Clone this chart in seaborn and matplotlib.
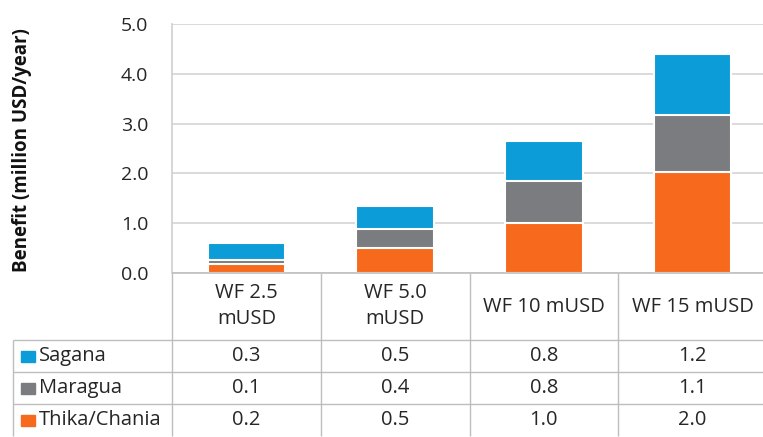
import matplotlib
matplotlib.use("Agg")
import matplotlib.pyplot as plt
import seaborn as sns
import pandas as pd
import numpy as np
from matplotlib.patches import Rectangle

# values (million USD/year)
categories = ['WF 2.5\nmUSD', 'WF 5.0\nmUSD', 'WF 10 mUSD', 'WF 15 mUSD']
thika = [0.18, 0.50, 1.01, 2.03]
maragua = [0.08, 0.38, 0.84, 1.14]
sagana = [0.34, 0.47, 0.80, 1.22]
yticks = [0.0, 1.0, 2.0, 3.0, 4.0, 5.0]

series = ['Sagana', 'Maragua', 'Thika/Chania']
colors = {'Sagana': '#0C9CD8', 'Maragua': '#7B7C7F', 'Thika/Chania': '#F76A1D'}
table_vals = {'Sagana': sagana, 'Maragua': maragua, 'Thika/Chania': thika}

sns.set_style('white')
plt.rcParams['font.family'] = ['Open Sans', 'DejaVu Sans']

df = pd.DataFrame({'cat': categories, 'thika': thika,
                   'maragua': maragua, 'sagana': sagana})
df['lvl1'] = df['thika']
df['lvl2'] = df['thika'] + df['maragua']
df['lvl3'] = df['lvl2'] + df['sagana']

fig = plt.figure(figsize=(7.63, 4.37), dpi=100)
ax = fig.add_axes([172 / 763, 1 - 273 / 437, 595 / 763, 249 / 437])

# stacked bars by overlaying cumulative totals
for col, name in [('lvl3', 'Sagana'), ('lvl2', 'Maragua'), ('lvl1', 'Thika/Chania')]:
    sns.barplot(data=df, x='cat', y=col, color=colors[name], width=0.52,
                edgecolor='white', linewidth=1.5, saturation=1, ax=ax, zorder=3)

txt_c = '#262626'
ax.set_xlim(-0.5, 3.5)
ax.set_ylim(0, 5.0)
ax.set_yticks(yticks)
ax.set_yticklabels([f'{v:.1f}' for v in yticks], fontsize=14, color=txt_c)
ax.tick_params(axis='y', length=0, pad=17)
ax.set_xticks([])
ax.set_xlabel('')
ax.set_ylabel('')
ax.grid(axis='y', color='#D4D4D4', linewidth=1.2, zorder=0)
for s in ['top', 'right', 'bottom']:
    ax.spines[s].set_visible(False)
ax.spines['left'].set_color('#CFCFCF')
ax.spines['left'].set_linewidth(1.2)

fig.text(22 / 763, 1 - 150 / 437, 'Benefit (million USD/year)', rotation=90,
         ha='center', va='center', fontsize=13.5, fontweight='bold', color='#111111')

# data table below the axis
tr = ax.get_xaxis_transform()
line_c = '#BDBDBD'
x_left = -0.5 - 158 / 148
header_bot = -67 / 249
row_h = 32 / 249
bottom = header_bot - 3 * row_h

ax.hlines(0, -0.5, 3.5, transform=tr, color='#BFBFBF', lw=1.2, clip_on=False, zorder=4)
ax.vlines([0.5, 1.5, 2.5], bottom, 0, transform=tr, color=line_c, lw=1.0, clip_on=False)
ax.vlines([-0.5], bottom, 0, transform=tr, color=line_c, lw=1.0, clip_on=False)
ax.vlines([x_left], bottom, header_bot, transform=tr, color=line_c, lw=1.0, clip_on=False)
for i in range(3):
    ax.hlines(header_bot - i * row_h, x_left, 3.5, transform=tr, color=line_c,
              lw=1.0, clip_on=False)

for i, c in enumerate(categories):
    ax.text(i, header_bot / 2, c, transform=tr, ha='center', va='center',
            fontsize=14.5, color=txt_c, linespacing=1.4, clip_on=False)

for r, name in enumerate(series):
    yc = header_bot - (r + 0.5) * row_h
    ax.add_patch(Rectangle((x_left + 8 / 148, yc - 5.5 / 249), 14 / 148, 11 / 249,
                           transform=tr, color=colors[name], clip_on=False))
    ax.text(x_left + 26 / 148, yc, name, transform=tr, ha='left', va='center',
            fontsize=14.5, color=txt_c, clip_on=False)
    for i, v in enumerate(table_vals[name]):
        ax.text(i, yc, f'{v:.1f}', transform=tr, ha='center', va='center',
                fontsize=14.5, color=txt_c, clip_on=False)

fig.savefig('out.png', dpi=100)
